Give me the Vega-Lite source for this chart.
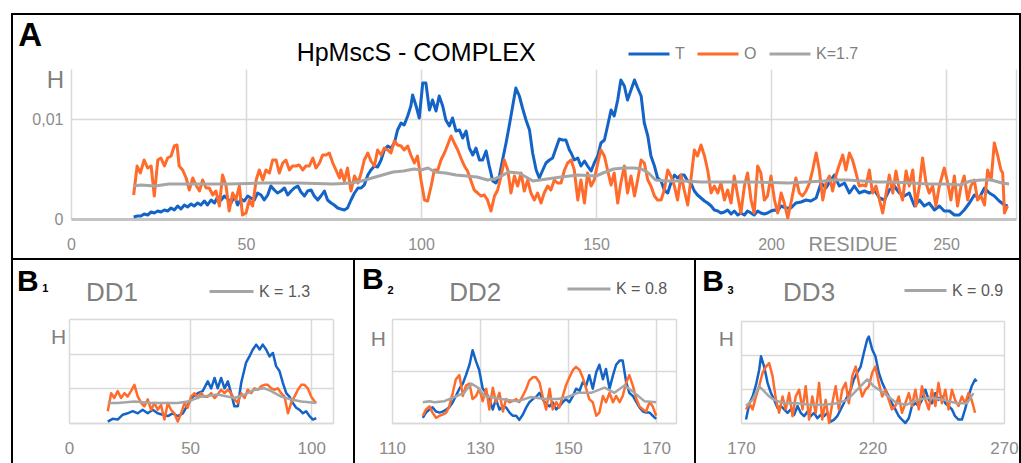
{
 "$schema": "https://vega.github.io/schema/vega-lite/v6.json",
 "padding": {"left": 11, "top": 13, "right": 0, "bottom": 0},
 "bounds": "flush",
 "spacing": 0,
 "config": {
  "font": "Liberation Sans",
  "view": {"stroke": "#000000", "strokeWidth": 2},
  "axis": {"gridColor": "#d9d9d9", "gridWidth": 1.5, "ticks": false, "tickSize": 0, "labelFlush": false, "labelOverlap": false, "title": null, "labelColor": "#8c8c8c"},
  "legend": {"orient": "none", "direction": "horizontal", "title": null, "symbolType": "stroke", "symbolStrokeWidth": 3, "padding": 0, "labelOffset": 4, "columnPadding": 6}
 },
 "datasets": {
  "A": [
   {"s": "T",
    "r": [17.9,19,20,20.9,21.9,22.9,23.8,24.8,25.7,26.7,27.6,28.6,29.5,30.5,31.4,32.4,33.3,34.3,35.2,36.2,37.1,38.1,39,40,41,41.9,42.9,43.8,44.8,45.7,46.7,47.6,48.6,49.5,50.5,51.4,52.4,53.3,54.3,55.2,56.2,57.1,58.1,59,60,61,61.9,62.9,63.8,64.8,65.7,66.7,67.6,68.6,69.5,70.5,71.4,72.4,73.3,74.3,75.2,76.2,77.1,
          78.1,79,80,81,82,82.9,83.8,84.8,85.7,86.7,87.6,88.6,89.5,90.5,91.4,92.4,93.3,94.3,95.2,96.2,97.1,97.6,98.6,99.5,100.5,101.4,102.4,103.3,104.3,105.2,106.2,107.1,108.1,109,110,111,111.9,112.9,113.8,114.8,115.7,116.7,117.6,118.6,119.5,120.5,121.4,122.4,123.3,124.3,125.2,126.2,127.1,128.1,129,130,131,131.9,132.9,133.8,134.8,135.7,136.7,137.6,138.6,139.5,140.5,141.4,142.4,
          142.9,143.8,144.8,145.7,146.7,147.6,148.6,149.5,150.5,151.4,152.4,153.3,154.3,155.2,156.2,157.1,158.1,159,160,161,161.9,162.9,163.8,164.8,165.7,166.7,167.6,168.6,169.5,170.5,171.4,172.4,173.3,174.3,175.2,176.2,177.1,178.1,179,180,181,181.9,182.9,183.8,184.8,185.7,186.7,187.6,188.6,189.5,190.5,191.4,192.4,193.3,194.3,195.2,196.2,197.1,198.1,199,200,201,201.9,202.9,
          204.3,205.7,207.1,208.6,210,211.4,212.9,214.3,215.7,217.1,218.1,219.5,221,222.4,223.8,225.2,226.7,228.1,229.5,231,232.4,233.8,235.2,236.7,238.1,239.5,241,242.4,243.8,245.2,246.7,248.1,249.5,251,252.4,253.8,255.2,256.7,258.1,259.5,261,262.4,263.8,265.2,266.7,267.6],
    "h": [0.2,0.3,0.3,0.5,0.4,0.7,0.6,0.8,0.7,0.9,0.8,1.1,0.9,1.3,1.0,1.4,1.2,1.5,1.3,1.6,1.4,1.8,1.4,1.9,1.6,2.2,1.9,2.3,2.0,1.6,2.3,1.4,2.0,1.8,2.3,2.1,1.9,2.6,2.4,1.9,2.4,3.3,2.9,2.6,2.8,3.1,2.4,2.8,3.1,3.3,2.7,2.3,2.8,2.9,2.3,1.9,2.3,2.8,1.9,1.6,1.4,1.1,1.0,
          0.9,1.1,1.9,2.6,3.1,3.1,3.4,4.4,4.9,5.3,5.2,5.9,6.9,7.3,7.1,7.6,8.9,9.6,9.4,10.3,11.3,12.4,11.3,10.1,13.6,13.6,10.9,11.9,10.8,12.3,11.3,9.9,9.3,10.1,8.8,8.9,8.1,8.8,7.1,6.4,7.1,5.9,5.9,6.8,5.3,3.8,3.6,4.3,5.9,7.6,9.3,11.3,13.1,12.3,11.1,9.9,8.9,6.6,4.9,4.1,4.9,5.6,5.9,6.1,7.1,8.0,7.9,7.9,6.9,
          6.6,5.9,6.1,5.3,5.8,5.3,4.8,5.6,6.3,7.6,7.9,9.3,10.9,10.3,11.9,13.9,13.3,11.9,12.9,13.9,13.1,12.3,9.6,8.3,6.3,5.3,4.1,3.8,2.9,2.6,3.6,4.4,4.1,4.4,4.4,3.8,3.6,2.8,2.4,2.1,1.8,1.6,1.3,0.9,0.8,0.6,0.7,0.9,0.5,0.8,0.4,0.6,0.4,0.8,0.6,0.4,0.8,0.6,0.5,0.6,0.8,0.9,0.8,1.3,
          1.1,1.1,1.6,1.7,1.9,1.8,2.1,3.6,3.1,3.9,4.4,3.3,3.6,2.6,3.3,2.6,2.8,2.6,2.9,2.1,1.9,2.9,3.3,2.6,2.3,2.6,1.3,1.9,1.3,1.6,0.9,1.3,0.8,0.8,0.4,0.4,0.9,1.6,2.4,2.1,3.1,2.6,2.3,1.8,1.4,1.3]},
   {"s": "O",
    "r": [17.9,18.9,19.8,20.9,21.9,22.9,23.8,24.8,25.7,26.7,27.6,28.6,29.5,30.3,30.9,31.9,32.9,33.8,34.8,35.7,36.7,37.6,38.6,39.5,40.5,41.4,42.4,43.3,44.3,45.2,46.2,47.1,48.1,49,50,51,51.9,52.9,53.8,54.8,55.7,56.7,57.6,58.6,59.5,60.5,61.4,62.4,63.3,64.3,65.2,66.2,67.1,68.1,69.1,70,71,71.9,72.9,73.8,74.8,75.7,76.7,
          77.1,78.1,79,80,81,82,82.9,83.8,84.8,85.7,86.7,87.6,88.6,89.5,90.5,91.4,92.4,93.3,94.3,95.2,96.2,97.1,98.1,99,100,101,101.9,102.9,103.8,104.8,105.7,106.7,107.6,108.6,109.5,110.5,111.4,112.4,113.3,114.3,115.2,116.2,117.1,118.1,119,120,121,121.9,122.9,123.8,124.8,125.7,126.7,127.6,128.6,129.5,130.5,131.4,132.4,133.3,134.3,135.2,136.2,137.1,138.1,139,
          140,141,141.9,142.9,143.8,144.8,145.7,146.7,147.6,148.6,149.5,150.5,151.4,152.4,153.3,154.3,155.2,156.2,157.1,158.1,159,160,161,161.9,162.9,163.8,164.8,165.7,166.7,167.6,168.6,169.5,170.5,171.4,172.4,173.3,174.3,175.2,176.2,177.1,178.1,179,180,181,181.9,182.9,183.8,184.8,185.7,186.7,187.6,188.6,189.5,190.5,191.4,192.4,193.3,194.3,195.2,196.2,197.1,198.1,199,200,201,201.9,202.9,
          203.8,204.8,205.7,207.1,208.1,209,210,211,211.9,212.9,213.8,214.8,215.7,216.7,217.6,218.6,219.5,220.5,221.4,222.4,223.3,224.3,225.2,226.2,227.1,228.1,229,230,231,231.9,232.9,233.8,234.8,235.7,236.7,237.6,238.6,239.5,240.5,241.4,242.4,243.3,244.3,245.2,246.2,247.1,248.1,249.5,250.5,251.4,252.4,253.3,254.3,255.2,256.2,257.1,258.1,259,260,261,261.9,262.9,263.8,264.8,265.7,266.2,266.7,267.6],
    "h": [2.4,5.3,4.6,5.9,5.1,5.3,2.3,5.9,6.1,5.3,6.1,6.3,7.3,7.4,5.3,4.9,4.1,2.9,4.1,3.4,2.8,3.9,3.1,3.1,2.4,2.8,1.3,4.4,3.3,0.8,2.6,1.9,3.3,0.4,0.6,1.9,1.3,3.9,4.9,3.9,4.9,4.6,5.9,5.9,4.6,5.6,5.9,4.9,5.3,5.3,5.4,4.9,5.3,5.3,6.1,5.1,5.6,6.4,6.4,6.6,5.6,4.9,4.1,
          4.9,3.8,5.1,2.8,4.3,3.6,4.6,5.9,6.6,5.8,5.3,6.9,6.4,7.1,6.9,6.6,7.8,7.4,7.3,6.9,7.3,6.4,5.6,6.3,3.9,1.9,1.8,3.3,4.9,4.9,5.9,6.6,7.4,8.3,7.6,6.9,6.1,5.3,4.8,3.8,2.9,2.6,2.3,2.4,1.9,0.8,2.3,2.9,4.3,5.9,4.9,2.6,4.3,3.3,4.6,2.8,3.9,2.6,1.9,2.6,1.6,2.6,3.3,2.9,3.9,3.6,
          3.6,4.9,5.6,5.9,4.9,1.9,3.9,1.6,4.6,3.3,3.9,5.6,6.9,6.3,4.9,3.4,4.6,1.6,3.6,5.3,2.6,4.3,2.3,3.9,5.9,5.6,3.9,3.3,2.3,1.9,1.9,2.9,4.9,4.3,3.3,1.9,4.4,2.9,1.4,3.9,6.9,6.3,7.4,6.3,4.9,2.6,3.3,2.6,3.6,1.9,2.9,1.6,4.3,2.3,0.6,3.3,4.6,1.9,0.6,5.3,4.6,1.9,2.3,4.3,1.9,0.6,2.6,
          1.6,0.1,1.6,4.1,2.6,2.3,2.8,3.6,4.9,6.6,4.9,1.9,3.6,4.3,2.8,4.4,5.4,6.4,4.9,6.6,5.9,4.6,3.3,3.4,3.3,4.9,2.6,3.3,1.9,0.6,2.6,4.4,2.6,4.8,2.9,1.9,4.8,3.3,4.9,1.3,3.3,6.1,3.6,2.6,3.3,1.3,3.3,5.1,3.6,1.9,4.3,1.3,3.3,4.3,1.9,3.3,3.9,1.9,2.3,1.4,4.9,3.9,7.6,6.3,4.9,4.6,0.6,1.3]},
   {"s": "K=1.7",
    "r": [17.9,20,24,28,35,45,55,65,75,80,83,86,89,92,95,98,100,102,104,107,110,113,116,119,121,123,125,128,132,136,140,145,150,152,155,158,161,163,165,167,170,175,180,185,195,205,210,215,218,222,226,230,235,240,245,250,254,257,260,263,266,268],
    "h": [3.3,3.4,3.3,3.5,3.5,3.5,3.6,3.6,3.5,3.6,3.8,4.1,4.4,4.7,4.8,5.0,4.9,5.1,4.7,4.6,4.4,4.3,4.2,3.9,4.0,4.3,4.7,4.6,3.8,4.0,4.2,4.4,4.3,4.6,5.0,5.1,5.1,5.0,4.6,3.9,3.8,3.8,3.7,3.7,3.7,3.6,3.7,3.8,3.9,3.9,3.8,3.7,3.7,3.6,3.5,3.5,3.4,3.8,3.9,3.9,3.6,3.5]}
  ],
  "B1": [
   {"s": "T",
    "r": [16.0,18.0,20.1,22.2,24.2,26.3,28.4,30.4,32.5,34.6,36.6,38.7,40.8,42.8,44.9,47.0,49.0,51.1,53.2,55.2,57.3,58.7,60.1,61.4,62.8,64.2,65.6,66.9,68.3,69.7,71.1,73.1,74.5,75.9,77.3,78.7,80.0,81.4,82.8,84.2,85.5,86.9,88.3,89.7,91.0,92.4,93.8,95.2,96.6,97.9,99.3,100.7,102.1],
    "h": [0.2,0.6,0.5,1.2,1.4,1.7,1.4,1.9,1.4,1.9,1.4,1.2,1.0,1.4,1.0,1.4,2.6,3.8,4.3,4.6,6.0,5.0,6.5,5.0,6.5,5.0,6.0,4.3,2.4,2.4,5.8,8.7,9.6,10.6,11.3,10.6,11.3,10.6,9.6,10.1,8.2,7.5,5.8,4.3,3.8,2.9,2.2,1.9,1.4,1.7,1.0,0.5,0.7]},
   {"s": "O",
    "r": [16.0,17.4,18.7,20.1,21.5,22.9,24.2,25.6,27.0,28.4,29.8,31.1,32.5,33.9,35.3,36.6,38.0,39.4,40.8,42.1,43.5,44.9,46.3,47.7,49.0,50.4,51.8,53.2,54.5,55.9,57.3,58.7,60.1,61.4,62.8,64.2,65.6,66.9,68.3,69.7,71.1,72.5,73.8,75.2,76.6,78.0,79.3,80.7,82.1,83.5,84.8,86.2,87.6,89.0,90.4,91.7,93.1,94.5,95.9,97.2,98.6,100.0,101.4,102.1],
    "h": [1.7,4.3,3.6,4.6,3.6,4.3,3.8,4.6,5.5,3.8,2.9,2.4,3.4,1.9,2.9,1.9,2.6,0.5,2.9,1.9,1.4,0.2,1.4,2.9,2.2,3.8,4.3,3.6,4.3,3.8,3.8,4.3,3.6,4.1,4.8,4.3,4.8,4.3,3.4,2.9,4.3,3.6,4.8,4.3,5.0,4.8,5.3,5.5,5.5,5.0,4.8,5.0,4.3,3.8,1.4,2.9,3.8,4.8,5.5,5.5,5.0,3.8,3.1,2.9]},
   {"s": "K = 1.3",
    "r": [16.0,20.1,27.0,33.9,40.8,44.9,49.0,54.5,61.4,68.3,72.5,76.6,80.7,83.5,87.6,91.7,95.9,102.1],
    "h": [2.9,2.9,3.1,2.9,2.9,2.9,3.1,3.8,4.1,3.6,4.1,4.8,5.0,4.6,3.8,3.4,3.1,2.9]}
  ],
  "B2": [
   {"s": "T",
    "r": [117.0,117.7,118.5,119.2,120.0,120.8,121.5,122.3,123.0,123.8,124.5,125.3,126.1,126.8,127.6,128.3,129.1,129.8,130.6,131.4,132.1,132.9,133.6,134.4,135.2,135.9,136.7,137.4,138.2,138.9,139.7,140.5,141.2,142.0,142.7,143.5,144.2,145.0,145.8,146.5,147.3,148.0,148.8,149.5,150.3,151.1,151.8,152.6,153.3,154.1,154.8,155.6,156.4,157.1,157.9,158.6,159.4,160.2,160.9,161.7,162.4,163.2,163.9,164.7,165.5,166.2,167.0,167.7,168.5,169.2,170.0],
    "h": [0.5,1.0,1.3,1.5,1.1,1.0,1.1,1.3,1.5,2.0,2.6,3.3,3.8,4.6,5.6,7.0,5.9,5.1,3.3,2.9,2.3,1.3,2.3,1.3,1.6,1.5,1.0,0.7,0.7,0.3,0.8,1.5,2.0,2.3,2.5,2.9,2.3,1.8,1.6,2.0,1.3,1.6,2.0,2.3,2.0,2.6,3.3,3.1,3.9,3.6,4.6,3.3,4.9,5.6,4.2,5.2,3.3,4.6,5.6,6.0,6.0,3.9,2.9,2.6,2.0,1.5,1.1,1.0,1.0,0.7,0.4]},
   {"s": "O",
    "r": [117.0,117.7,118.5,119.2,120.0,120.8,121.5,122.3,123.0,123.8,124.5,125.3,126.1,126.8,127.6,128.3,129.1,129.8,130.6,131.4,132.1,132.9,133.6,134.4,135.2,135.9,136.7,137.4,138.2,138.9,139.7,140.5,141.2,142.0,142.7,143.5,144.2,145.0,145.8,146.5,147.3,148.0,148.8,149.5,150.3,151.1,151.8,152.6,153.3,154.1,154.8,155.6,156.4,157.1,157.9,158.6,159.4,160.2,160.9,161.7,162.4,163.2,163.9,164.7,165.5,166.2,167.0,167.7,168.5,169.2,170.0],
    "h": [0.7,1.3,1.6,1.0,0.5,0.7,0.8,1.0,1.6,2.9,4.2,4.6,2.6,3.6,3.8,2.3,2.6,3.3,2.1,3.3,1.3,3.4,2.0,2.9,1.1,2.3,2.0,2.1,2.3,2.0,2.6,3.3,4.1,4.4,4.4,3.9,2.6,1.3,3.3,1.3,2.0,1.5,2.6,3.6,4.4,5.1,5.4,5.1,4.4,3.3,2.3,2.0,0.7,1.0,2.6,2.0,2.9,2.0,2.6,2.0,2.6,3.9,4.6,3.6,2.3,1.6,1.3,1.1,2.0,1.6,0.7]},
   {"s": "K = 0.8",
    "r": [117.0,118.5,119.6,121.9,124.2,126.4,128.0,129.5,131.0,134.8,138.6,141.6,144.6,147.7,149.9,152.2,155.2,158.3,160.5,162.8,165.1,167.3,170.0],
    "h": [2.0,2.1,2.0,2.1,2.5,2.9,3.8,3.4,2.6,2.3,2.1,2.5,2.3,2.3,2.5,2.9,2.9,3.4,2.9,3.6,2.9,2.1,2.0]}
  ],
  "B3": [
   {"s": "T",
    "r": [171.9,173.2,174.4,175.7,176.9,177.6,178.8,180.1,181.4,182.6,183.9,185.2,186.4,187.7,188.9,190.2,191.5,192.7,194.0,195.3,196.5,197.8,199.0,200.3,201.6,202.8,204.1,205.4,206.6,207.9,209.1,210.4,211.7,212.9,214.2,215.5,216.7,218.0,218.6,219.9,221.1,222.4,223.7,224.9,226.2,227.4,228.7,230.0,231.2,232.5,233.8,235.0,236.3,237.6,238.8,240.1,241.4,242.6,243.9,245.1,246.4,247.7,248.9,250.2,251.4,252.7,254.0,255.2,256.5,257.7,259.0,259.6],
    "h": [0.5,2.9,3.9,5.6,7.8,9.8,8.3,5.9,4.4,3.4,2.2,2.5,2.0,1.5,2.0,1.2,2.5,1.5,1.0,1.7,1.0,1.5,0.7,1.2,1.0,1.5,0.2,0.5,1.0,2.0,2.9,3.9,4.9,6.4,7.4,8.3,10.3,12.3,12.7,10.8,9.8,7.4,5.9,4.9,3.9,2.9,2.0,1.0,0.5,0.0,0.7,2.5,2.9,2.5,3.4,4.9,3.4,2.9,4.4,3.4,3.9,2.9,2.5,2.0,1.0,0.5,0.5,2.0,3.9,5.4,6.4,6.1]},
   {"s": "O",
    "r": [171.9,173.2,174.4,175.7,176.9,178.2,179.5,180.7,182.0,183.3,184.5,185.8,187.0,188.3,189.6,190.8,192.1,193.4,194.6,195.9,197.1,198.4,199.7,200.9,202.2,203.5,204.7,206.0,207.2,208.5,209.8,211.0,212.3,213.6,214.8,216.1,217.3,218.6,219.9,221.1,222.4,223.7,224.9,226.2,227.4,228.7,230.0,231.2,232.5,233.8,235.0,236.3,237.6,238.8,240.1,241.4,242.6,243.9,245.1,246.4,247.7,248.9,250.2,251.4,252.7,254.0,255.2,256.5,257.7,259.0],
    "h": [2.0,2.9,2.0,3.9,5.4,7.4,8.3,8.8,6.9,3.4,1.5,3.9,2.0,4.4,1.0,3.9,4.9,2.0,5.4,0.5,3.9,1.5,5.9,0.5,3.4,0.0,2.9,5.4,2.0,4.9,5.9,2.9,6.9,8.3,5.9,3.9,4.9,5.4,7.4,8.3,5.9,3.9,4.9,3.4,2.0,2.5,3.9,1.5,2.9,4.4,2.5,4.9,2.0,5.4,3.4,2.0,4.9,2.5,5.9,2.9,4.9,2.0,4.9,3.4,2.5,3.9,2.9,4.4,3.4,1.5]},
   {"s": "K = 0.9",
    "r": [171.9,174.4,176.9,178.2,180.7,182.6,186.4,191.5,196.5,201.6,206.6,210.4,214.2,218.0,220.5,224.3,229.3,233.1,236.9,242.0,247.0,252.1,255.9,258.4],
    "h": [2.5,3.4,5.4,4.9,3.9,3.4,2.9,2.9,2.7,2.7,2.9,3.4,4.9,6.4,5.4,4.4,2.9,2.7,3.4,3.7,3.4,2.9,2.9,4.4]}
  ]
 },
 "resolve": {"scale": {"color": "independent"}, "legend": {"color": "independent"}},
 "vconcat": [
  {
   "width": 1008, "height": 245,
   "layer": [
    {
     "data": {"name": "A"},
     "transform": [{"flatten": ["r", "h"]}],
     "mark": {"type": "line", "strokeWidth": 3, "strokeJoin": "round"},
     "encoding": {
      "x": {"field": "r", "type": "quantitative",
            "scale": {"domain": [0, 270], "range": [59, 1004], "nice": false, "zero": false},
            "axis": {"orient": "top", "offset": -205, "values": [0, 50, 100, 150, 200, 250, 270], "labelExpr": "datum.value == 270 ? '' : datum.label", "grid": true, "domain": true, "domainColor": "#c4c4c4", "domainWidth": 3, "labelPadding": -30, "labelBaseline": "alphabetic", "labelFontSize": 16}},
      "y": {"field": "h", "type": "quantitative",
            "scale": {"domain": [0, 15], "range": [205, 55], "nice": false},
            "axis": {"offset": -59, "values": [0, 10], "labelExpr": "datum.value == 0 ? '0' : '0,01'", "grid": true, "domain": false, "labelPadding": 8, "labelFontSize": 16}},
      "color": {"field": "s", "type": "nominal",
                "scale": {"domain": ["T", "O", "K=1.7"], "range": ["#1464c8", "#ff6b2b", "#a5a5a5"]},
                "legend": {"legendX": 615, "legendY": 18, "symbolSize": 1680, "labelFontSize": 16, "labelColor": "#808080"}}
     }
    },
    {"data": {"values": [{}]}, "mark": {"type": "text", "text": "A", "fontSize": 33, "fontWeight": "bold", "align": "left", "baseline": "alphabetic", "color": "#000000"},
     "encoding": {"x": {"datum": -15.1, "type": "quantitative"}, "y": {"datum": 17.3, "type": "quantitative"}}},
    {"data": {"values": [{}]}, "mark": {"type": "text", "text": "HpMscS - COMPLEX", "fontSize": 25, "align": "center", "baseline": "alphabetic", "color": "#000000"},
     "encoding": {"x": {"datum": 98.6, "type": "quantitative"}, "y": {"datum": 15.8, "type": "quantitative"}}},
    {"data": {"values": [{}]}, "mark": {"type": "text", "text": "H", "fontSize": 24, "align": "right", "baseline": "alphabetic", "color": "#7f7f7f"},
     "encoding": {"x": {"datum": -2.0, "type": "quantitative"}, "y": {"datum": 13.1, "type": "quantitative"}}},
    {"data": {"values": [{}]}, "mark": {"type": "text", "text": "RESIDUE", "fontSize": 20, "align": "center", "baseline": "alphabetic", "color": "#8c8c8c"},
     "encoding": {"x": {"datum": 223.4, "type": "quantitative"}, "y": {"datum": -3.2, "type": "quantitative"}}}
   ]
  },
  {
   "hconcat": [
    {
     "width": 342, "height": 207,
     "layer": [
      {
       "data": {"name": "B1"},
       "transform": [{"flatten": ["r", "h"]}],
       "mark": {"type": "line", "strokeWidth": 2.5, "strokeJoin": "round"},
       "encoding": {
        "x": {"field": "r", "type": "quantitative",
              "scale": {"domain": [0, 109], "range": [57, 321], "nice": false, "zero": false},
              "axis": {"orient": "top", "offset": -164, "values": [0, 50, 100, 109], "labelExpr": "datum.value == 109 ? '' : datum.label", "grid": true, "domain": true, "domainColor": "#d9d9d9", "domainWidth": 1.5, "labelPadding": -30, "labelBaseline": "alphabetic", "labelFontSize": 17}},
        "y": {"field": "h", "type": "quantitative",
              "scale": {"domain": [0, 15], "range": [164, 60], "nice": false},
              "axis": {"offset": -57, "values": [0, 5, 10, 15], "labels": false, "grid": true, "domain": false}},
        "color": {"field": "s", "type": "nominal",
                  "scale": {"domain": ["T", "O", "K = 1.3"], "range": ["#1464c8", "#ff6b2b", "#a5a5a5"]},
                  "legend": {"values": ["K = 1.3"], "legendX": 196, "legendY": 9, "symbolSize": 1936, "labelFontSize": 16, "labelColor": "#595959"}}
       }
      },
      {"data": {"values": [{}]}, "mark": {"type": "text", "text": "B", "fontSize": 30, "fontWeight": "bold", "align": "left", "baseline": "alphabetic", "color": "#000000"},
       "encoding": {"x": {"datum": -21.5, "type": "quantitative"}, "y": {"datum": 19.0, "type": "quantitative"}}},
      {"data": {"values": [{}]}, "mark": {"type": "text", "text": "1", "fontSize": 11, "fontWeight": "bold", "align": "left", "baseline": "alphabetic", "color": "#000000"},
       "encoding": {"x": {"datum": -11.0, "type": "quantitative"}, "y": {"datum": 18.9, "type": "quantitative"}}},
      {"data": {"values": [{}]}, "mark": {"type": "text", "text": "DD1", "fontSize": 26, "align": "left", "baseline": "alphabetic", "color": "#808080"},
       "encoding": {"x": {"datum": 7.0, "type": "quantitative"}, "y": {"datum": 17.6, "type": "quantitative"}}},
      {"data": {"values": [{}]}, "mark": {"type": "text", "text": "H", "fontSize": 21, "align": "right", "baseline": "alphabetic", "color": "#808080"},
       "encoding": {"x": {"datum": -1.2, "type": "quantitative"}, "y": {"datum": 11.4, "type": "quantitative"}}}
     ]
    },
    {
     "width": 341, "height": 207,
     "layer": [
      {
       "data": {"name": "B2"},
       "transform": [{"flatten": ["r", "h"]}],
       "mark": {"type": "line", "strokeWidth": 2.5, "strokeJoin": "round"},
       "encoding": {
        "x": {"field": "r", "type": "quantitative",
              "scale": {"domain": [110, 174.5], "range": [38, 322], "nice": false, "zero": false},
              "axis": {"orient": "top", "offset": -164, "values": [110, 130, 150, 170, 174.5], "labelExpr": "datum.value > 172 ? '' : datum.label", "grid": true, "domain": true, "domainColor": "#d9d9d9", "domainWidth": 1.5, "labelPadding": -30, "labelBaseline": "alphabetic", "labelFontSize": 17}},
        "y": {"field": "h", "type": "quantitative",
              "scale": {"domain": [0, 10], "range": [164, 60], "nice": false},
              "axis": {"offset": -38, "values": [0, 5, 10], "labels": false, "grid": true, "domain": false}},
        "color": {"field": "s", "type": "nominal",
                  "scale": {"domain": ["T", "O", "K = 0.8"], "range": ["#1464c8", "#ff6b2b", "#a5a5a5"]},
                  "legend": {"values": ["K = 0.8"], "legendX": 212, "legendY": 7, "symbolSize": 1849, "labelFontSize": 16, "labelColor": "#595959"}}
       }
      },
      {"data": {"values": [{}]}, "mark": {"type": "text", "text": "B", "fontSize": 30, "fontWeight": "bold", "align": "left", "baseline": "alphabetic", "color": "#000000"},
       "encoding": {"x": {"datum": 103.2, "type": "quantitative"}, "y": {"datum": 12.9, "type": "quantitative"}}},
      {"data": {"values": [{}]}, "mark": {"type": "text", "text": "2", "fontSize": 11, "fontWeight": "bold", "align": "left", "baseline": "alphabetic", "color": "#000000"},
       "encoding": {"x": {"datum": 109.0, "type": "quantitative"}, "y": {"datum": 12.4, "type": "quantitative"}}},
      {"data": {"values": [{}]}, "mark": {"type": "text", "text": "DD2", "fontSize": 26, "align": "left", "baseline": "alphabetic", "color": "#808080"},
       "encoding": {"x": {"datum": 123.0, "type": "quantitative"}, "y": {"datum": 11.7, "type": "quantitative"}}},
      {"data": {"values": [{}]}, "mark": {"type": "text", "text": "H", "fontSize": 21, "align": "right", "baseline": "alphabetic", "color": "#808080"},
       "encoding": {"x": {"datum": 108.6, "type": "quantitative"}, "y": {"datum": 7.4, "type": "quantitative"}}}
     ]
    },
    {
     "width": 325, "height": 207,
     "layer": [
      {
       "data": {"name": "B3"},
       "transform": [{"flatten": ["r", "h"]}],
       "mark": {"type": "line", "strokeWidth": 2.5, "strokeJoin": "round"},
       "encoding": {
        "x": {"field": "r", "type": "quantitative",
              "scale": {"domain": [170, 270], "range": [46, 309], "nice": false, "zero": false},
              "axis": {"orient": "top", "offset": -164, "values": [170, 220, 270], "grid": true, "domain": true, "domainColor": "#d9d9d9", "domainWidth": 1.5, "labelPadding": -30, "labelBaseline": "alphabetic", "labelFontSize": 17}},
        "y": {"field": "h", "type": "quantitative",
              "scale": {"domain": [0, 15], "range": [164, 62], "nice": false},
              "axis": {"offset": -46, "values": [0, 5, 10, 15], "labels": false, "grid": true, "domain": false}},
        "color": {"field": "s", "type": "nominal",
                  "scale": {"domain": ["T", "O", "K = 0.9"], "range": ["#1464c8", "#ff6b2b", "#a5a5a5"]},
                  "legend": {"values": ["K = 0.9"], "legendX": 208, "legendY": 9, "symbolSize": 1764, "labelFontSize": 16, "labelColor": "#595959"}}
       }
      },
      {"data": {"values": [{}]}, "mark": {"type": "text", "text": "B", "fontSize": 30, "fontWeight": "bold", "align": "left", "baseline": "alphabetic", "color": "#000000"},
       "encoding": {"x": {"datum": 155.3, "type": "quantitative"}, "y": {"datum": 19.4, "type": "quantitative"}}},
      {"data": {"values": [{}]}, "mark": {"type": "text", "text": "3", "fontSize": 11, "fontWeight": "bold", "align": "left", "baseline": "alphabetic", "color": "#000000"},
       "encoding": {"x": {"datum": 164.9, "type": "quantitative"}, "y": {"datum": 19.0, "type": "quantitative"}}},
      {"data": {"values": [{}]}, "mark": {"type": "text", "text": "DD3", "fontSize": 26, "align": "left", "baseline": "alphabetic", "color": "#808080"},
       "encoding": {"x": {"datum": 186.0, "type": "quantitative"}, "y": {"datum": 17.9, "type": "quantitative"}}},
      {"data": {"values": [{}]}, "mark": {"type": "text", "text": "H", "fontSize": 21, "align": "right", "baseline": "alphabetic", "color": "#808080"},
       "encoding": {"x": {"datum": 167.3, "type": "quantitative"}, "y": {"datum": 11.3, "type": "quantitative"}}}
     ]
    }
   ],
   "spacing": 0,
   "bounds": "flush",
   "resolve": {"scale": {"color": "independent"}, "legend": {"color": "independent"}}
  }
 ]
}
